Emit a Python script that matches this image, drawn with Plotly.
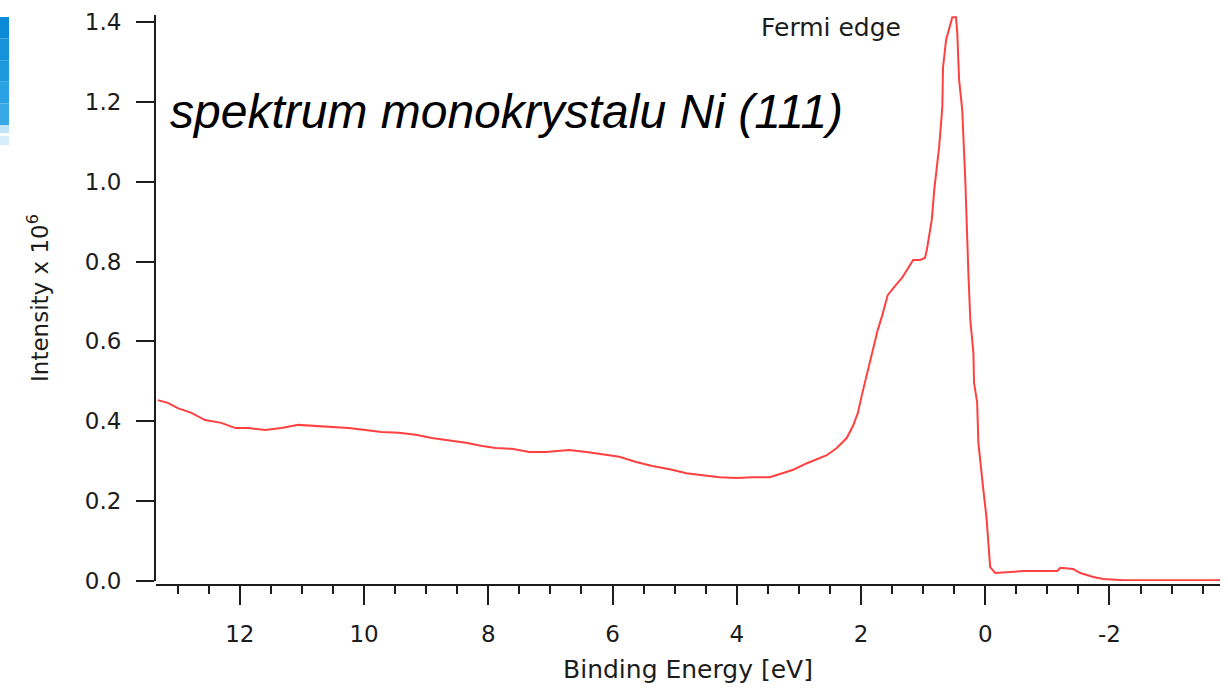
import plotly.graph_objects as go

# Ni(111) valence-band photoemission spectrum
binding_energy = [
    13.32, 13.16, 13.00, 12.78, 12.56, 12.30, 12.07, 11.86, 11.59, 11.33,
    11.06, 10.78, 10.52, 10.25, 9.98, 9.72, 9.44, 9.17, 8.91, 8.64,
    8.36, 8.10, 7.88, 7.62, 7.34, 7.07, 6.70, 6.42, 6.17, 5.89,
    5.62, 5.36, 5.08, 4.81, 4.55, 4.28, 4.00, 3.75, 3.47, 3.31,
    3.10, 2.87, 2.66, 2.55, 2.39, 2.23, 2.13, 2.05, 1.99, 1.94,
    1.89, 1.84, 1.78, 1.73, 1.66, 1.61, 1.57, 1.45, 1.34, 1.24,
    1.16, 1.05, 0.97, 0.94, 0.90, 0.86, 0.82, 0.77, 0.74, 0.69,
    0.68, 0.63, 0.60, 0.56, 0.53, 0.47, 0.45, 0.42, 0.37, 0.32,
    0.29, 0.27, 0.24, 0.19, 0.18, 0.13, 0.11, 0.06, 0.03, -0.02,
    -0.05, -0.08, -0.16, -0.36, -0.61, -1.16, -1.21, -1.42, -1.53, -1.74,
    -1.90, -2.23, -3.79,
]
intensity = [
    0.453, 0.446, 0.433, 0.421, 0.403, 0.396, 0.383, 0.383, 0.378, 0.383,
    0.391, 0.388, 0.386, 0.383, 0.378, 0.373, 0.371, 0.366, 0.358, 0.353,
    0.346, 0.338, 0.333, 0.331, 0.323, 0.323, 0.328, 0.323, 0.318, 0.311,
    0.298, 0.288, 0.280, 0.270, 0.265, 0.260, 0.258, 0.260, 0.260, 0.268,
    0.278, 0.295, 0.308, 0.315, 0.333, 0.358, 0.388, 0.421, 0.463, 0.496,
    0.529, 0.564, 0.596, 0.629, 0.664, 0.696, 0.716, 0.739, 0.759, 0.784,
    0.804, 0.804, 0.809, 0.829, 0.862, 0.905, 0.980, 1.050, 1.090, 1.187,
    1.285, 1.355, 1.373, 1.398, 1.412, 1.412, 1.372, 1.255, 1.180, 1.000,
    0.830, 0.767, 0.654, 0.571, 0.496, 0.448, 0.346, 0.260, 0.228, 0.160,
    0.085, 0.035, 0.020, 0.023, 0.025, 0.025, 0.033, 0.030, 0.020, 0.010,
    0.005, 0.002, 0.002,
]

x_ticks = [12, 10, 8, 6, 4, 2, 0, -2]
x_tick_text = ["12", "10", "8", "6", "4", "2", "0", "-2"]
y_ticks = [0.0, 0.2, 0.4, 0.6, 0.8, 1.0, 1.2, 1.4]
y_tick_text = ["0.0", "0.2", "0.4", "0.6", "0.8", "1.0", "1.2", "1.4"]

W, H = 1228, 689
M_L, M_R, M_T, M_B = 156, 8, 15, 104
plot_w = W - M_L - M_R
plot_h = H - M_T - M_B

AXIS_FONT = "DejaVu Sans, Verdana, sans-serif"
INK = "#1c1c1c"

fig = go.Figure()
fig.add_trace(go.Scatter(
    x=binding_energy, y=intensity, mode="lines",
    line=dict(color="#ff4040", width=2),
    showlegend=False, hoverinfo="skip",
))


def px_x(px):
    return (px - M_L) / plot_w


def px_y(py):
    return (H - M_B - py) / plot_h


# slide decoration strip at the upper-left edge
shapes = []
blues = ["#0a8ad6", "#1592da", "#1f99de", "#2aa1e2", "#36a8e5"]
top, bottom = 17, 125
step = (bottom - top) / len(blues)
for i, c in enumerate(blues):
    shapes.append(dict(
        type="rect", xref="paper", yref="paper",
        x0=px_x(0), x1=px_x(9),
        y0=px_y(top + (i + 1) * step), y1=px_y(top + i * step),
        fillcolor=c, line=dict(width=0), layer="above",
    ))
for y0, y1, c in [(125, 133, "#bfe3f7"), (133, 136, "#ffffff"), (136, 145, "#d6eefb")]:
    shapes.append(dict(
        type="rect", xref="paper", yref="paper",
        x0=px_x(0), x1=px_x(9), y0=px_y(y1), y1=px_y(y0),
        fillcolor=c, line=dict(width=0), layer="above",
    ))

fig.update_layout(
    width=W, height=H,
    margin=dict(l=M_L, r=M_R, t=M_T, b=M_B, pad=0),
    paper_bgcolor="white", plot_bgcolor="white",
    font=dict(family=AXIS_FONT, color=INK),
    shapes=shapes,
    xaxis=dict(
        range=[13.35, -3.78], autorange=False,
        anchor="free", position=0,
        tickvals=x_ticks, ticktext=x_tick_text,
        ticks="outside", ticklen=19, tickwidth=2, tickcolor=INK,
        minor=dict(dtick=0.5, tick0=0, ticks="outside", ticklen=8,
                   tickwidth=2, tickcolor=INK),
        showline=True, linecolor=INK, linewidth=2,
        showgrid=False, zeroline=False,
        tickfont=dict(size=23, family=AXIS_FONT, color=INK),
        ticklabelstandoff=9,
        title=dict(text="Binding Energy [eV]", standoff=14,
                   font=dict(size=25, family=AXIS_FONT, color=INK)),
    ),
    yaxis=dict(
        range=[0, 1.4175], autorange=False,
        domain=[4 / plot_h, 1],
        tickvals=y_ticks, ticktext=y_tick_text,
        ticks="outside", ticklen=18, tickwidth=2, tickcolor=INK,
        showline=True, linecolor=INK, linewidth=2,
        showgrid=False, zeroline=False,
        tickfont=dict(size=23, family=AXIS_FONT, color=INK),
        ticklabelstandoff=10,
        title=dict(text="Intensity x 10<sup>6</sup>", standoff=30,
                   font=dict(size=23, family=AXIS_FONT, color=INK)),
    ),
    annotations=[
        dict(text="Fermi edge", xref="paper", yref="paper",
             x=px_x(831), y=px_y(28), xanchor="center", yanchor="middle",
             showarrow=False,
             font=dict(size=25, family=AXIS_FONT, color=INK)),
        dict(text="<i>spektrum monokrystalu Ni (111)</i>",
             xref="paper", yref="paper",
             x=px_x(168), y=px_y(112), xanchor="left", yanchor="middle",
             showarrow=False,
             font=dict(size=48, family="Liberation Sans, Arial, sans-serif",
                       color="#000000")),
    ],
)

fig.write_html("out.html")
